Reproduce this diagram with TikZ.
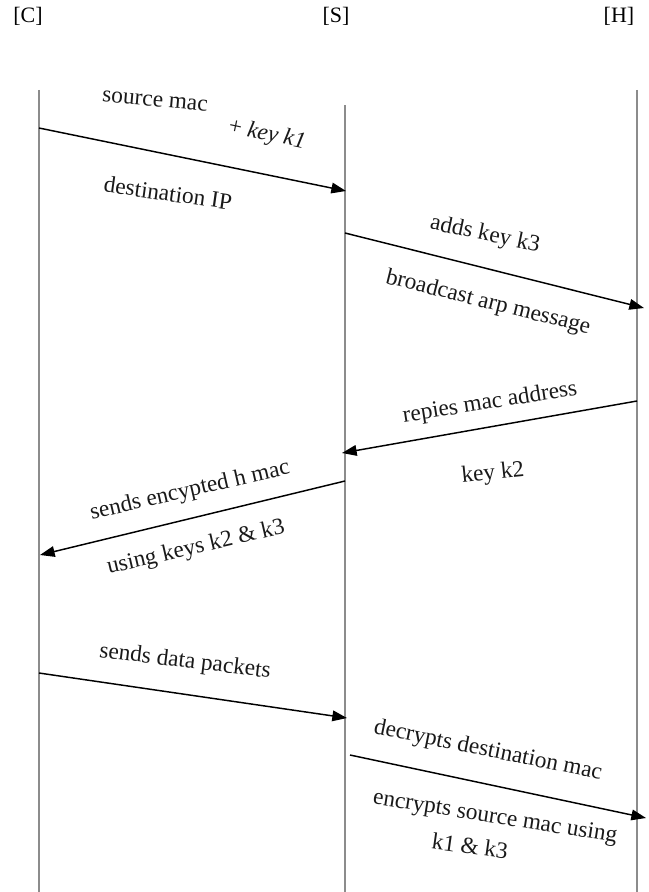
\documentclass[tikz,border=0pt]{standalone}
\usepackage{fontspec}
\setmainfont{Liberation Serif}
\usetikzlibrary{arrows.meta}
\begin{document}
\begin{tikzpicture}[x=0.75pt,y=-0.75pt,
  lifeline/.style={draw=black!45,line width=0.9pt},
  msg/.style={draw=black,line width=1.1pt,-{Triangle[length=11pt,width=8pt]}},
  hdr/.style={font=\fontsize{16.5}{18}\selectfont,inner sep=0pt},
  lbl/.style={font=\fontsize{17.5}{20}\selectfont,inner sep=0pt,text=black!90}]
\useasboundingbox (0,0) rectangle (649,892);
% headers
\node[hdr] (hC) at (28,16) {[C]};
\node[hdr] (hS) at (336,16) {[S]};
\node[hdr] (hH) at (619,16) {[H]};
% lifelines
\coordinate (Ct) at (39,90);   \coordinate (Cb) at (39,892);
\coordinate (St) at (345,105); \coordinate (Sb) at (345,892);
\coordinate (Ht) at (637,90);  \coordinate (Hb) at (637,892);
\draw[lifeline] (Ct) -- (Cb);
\draw[lifeline] (St) -- (Sb);
\draw[lifeline] (Ht) -- (Hb);
% message end points
\coordinate (m1a) at (39,128);  \coordinate (m1b) at (346,191);
\coordinate (m2a) at (345,233); \coordinate (m2b) at (644,308);
\coordinate (m3a) at (637,401); \coordinate (m3b) at (342,453);
\coordinate (m4a) at (345,481); \coordinate (m4b) at (40,555);
\coordinate (m5a) at (39,673);  \coordinate (m5b) at (347,718);
\coordinate (m6a) at (350,755); \coordinate (m6b) at (646,818);
\draw[msg] (m1a) -- (m1b);
\draw[msg] (m2a) -- (m2b);
\draw[msg] (m3a) -- (m3b);
\draw[msg] (m4a) -- (m4b);
\draw[msg] (m5a) -- (m5b);
\draw[msg] (m6a) -- (m6b);
% labels
\node[lbl,rotate=-5] (l1) at (155,101) {source mac};
\node[lbl,rotate=-12] (l2) at (267,135) {+ \textit{key k1}};
\node[lbl,rotate=-8] (l3) at (168,193) {destination IP};
\node[lbl,rotate=-12] (l4) at (485,235) {adds key k3};
\node[lbl,rotate=-14] (l5) at (488,303) {broadcast arp message};
\node[lbl,rotate=9] (l6) at (490,403) {repies mac address};
\node[lbl,rotate=6] (l7) at (493,474) {key k2};
\node[lbl,rotate=13] (l8) at (190,491) {sends encypted h mac};
\node[lbl,rotate=13] (l9) at (196,548) {using keys k2 \& k3};
\node[lbl,rotate=-7] (l10) at (185,662) {sends data packets};
\node[lbl,rotate=-11.5] (l11) at (488,751) {decrypts destination mac};
\node[lbl,rotate=-9] (l12) at (495,818) {encrypts source mac using};
\node[lbl,rotate=-8] (l13) at (470,846) {k1 \& k3};
\end{tikzpicture}
\end{document}
